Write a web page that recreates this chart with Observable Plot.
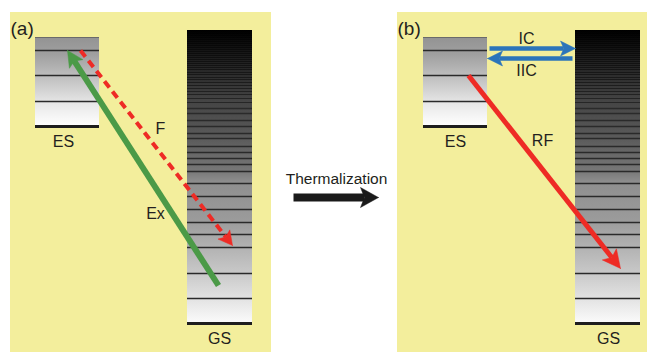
<!DOCTYPE html>
<html><head><meta charset="utf-8">
<script src="https://cdn.jsdelivr.net/npm/d3@7"></script>
<script src="https://cdn.jsdelivr.net/npm/@observablehq/plot@0.6"></script>
<style>body{margin:0;background:#fff;}</style>
</head><body><div id="chart"></div>
<script>
// ---- data ----
const panels = ["(a)", "(b)"];
const panelOffset = [0, 388];
const states = ["ES", "GS"];
const stateX = {ES: [35, 99], GS: [187, 252]};
const stateE = {ES: [197, 286], GS: [0, 293]};
const esLevels = [197, 222, 248, 273, 286];
const gsLevels = [0, 25, 50, 76, 89, 101, 114, 127, 140, 152, 159, 165, 171, 177, 185, 190, 197, 203, 210, 215, 221,
  225, 229, 232, 235, 238, 241, 244, 246, 249, 251, 254, 256, 258, 260, 262, 264, 266, 268, 270, 272, 274, 276, 278,
  280, 282, 284, 286, 288, 290];
const transitions = [
  {name: "Ex", panel: 0, x0: 218, e0: 38, x1: 67, e1: 273, color: "#4b9a47", width: 6, dash: null, L: 16, W: 8},
  {name: "F", panel: 0, x0: 80, e0: 273, x1: 232, e1: 78, color: "#ee2b25", width: 4, dash: "8,5", L: 14, W: 7.5},
  {name: "IC", panel: 1, x0: 101, e0: 275, x1: 187, e1: 275, color: "#2b74ba", width: 4.5, dash: null, L: 15, W: 7.5},
  {name: "IIC", panel: 1, x0: 184, e0: 265, x1: 99, e1: 265, color: "#2b74ba", width: 4.5, dash: null, L: 15, W: 7.5},
  {name: "RF", panel: 1, x0: 80, e0: 248, x1: 232, e1: 55, color: "#ee2b25", width: 5, dash: null, L: 18, W: 9},
  {name: "Thermalization", panel: null, x0: 293, e0: 126, x1: 378, e1: 126, color: "#1a1a1a", width: 8, dash: null, L: 18, W: 10}
];
const labels = [
  {text: "(a)", x: 10, e: 295, size: 19, anchor: "start"},
  {text: "(b)", x: 397, e: 295, size: 19, anchor: "start"},
  {text: "ES", x: 63, e: 182, size: 16, anchor: "middle"},
  {text: "GS", x: 219, e: -15, size: 16, anchor: "middle"},
  {text: "ES", x: 455, e: 182, size: 16, anchor: "middle"},
  {text: "GS", x: 608, e: -15, size: 16, anchor: "middle"},
  {text: "F", x: 160, e: 195, size: 16, anchor: "middle"},
  {text: "Ex", x: 155, e: 110, size: 16, anchor: "middle"},
  {text: "IC", x: 526, e: 285, size: 16, anchor: "middle"},
  {text: "IIC", x: 526, e: 253, size: 16, anchor: "middle"},
  {text: "RF", x: 542, e: 183, size: 16, anchor: "middle"},
  {text: "Thermalization", x: 336, e: 144, size: 15.5, anchor: "middle"}
];

// ---- derived tables ----
const panelBg = panels.map((p, i) => ({x1: 10 + panelOffset[i] - (i ? 1 : 0), x2: i ? 660 : 271, e1: -29, e2: 311}));
const boxes = [];
panels.forEach((p, i) => states.forEach(s => boxes.push({
  state: s, x1: stateX[s][0] + panelOffset[i], x2: stateX[s][1] + panelOffset[i], e1: stateE[s][0], e2: stateE[s][1]
})));
const levelRows = [];
panels.forEach((p, i) => {
  esLevels.forEach(e => levelRows.push({x1: stateX.ES[0] + panelOffset[i], x2: stateX.ES[1] + panelOffset[i], e,
    kind: e === esLevels[0] ? "base" : e === esLevels[esLevels.length - 1] ? "top" : "mid"}));
  gsLevels.forEach(e => levelRows.push({x1: stateX.GS[0] + panelOffset[i], x2: stateX.GS[1] + panelOffset[i], e,
    kind: e === 0 ? "base" : e > 218 ? "dense" : "mid"}));
});
const shafts = [], heads = [];
transitions.forEach((t, k) => {
  const off = t.panel == null ? 0 : panelOffset[t.panel];
  const ax = t.x0 + off, ae = t.e0, bx = t.x1 + off, be = t.e1;
  const len = Math.hypot(bx - ax, be - ae), ux = (bx - ax) / len, ue = (be - ae) / len;
  const nx = -ue, ne = ux, notch = 0.78;
  shafts.push({x1: ax, e1: ae, x2: bx - ux * t.L * notch, e2: be - ue * t.L * notch, color: t.color, width: t.width, dash: t.dash});
  const pts = [
    [bx, be],
    [bx - ux * t.L + nx * t.W, be - ue * t.L + ne * t.W],
    [bx - ux * t.L * notch, be - ue * t.L * notch],
    [bx - ux * t.L - nx * t.W, be - ue * t.L - ne * t.W],
    [bx, be]
  ];
  pts.forEach(([x, e]) => heads.push({id: k, x, e, color: t.color}));
});

const lineStyle = {
  base: {stroke: "#1e1e1e", width: 3, op: 1},
  top: {stroke: "#6a6a6a", width: 1.2, op: 1},
  mid: {stroke: "#2a2a2a", width: 1.6, op: 1},
  dense: {stroke: "#000", width: 1.2, op: 0.45}
};

const marks = [
  Plot.rect(panelBg, {x1: "x1", x2: "x2", y1: "e1", y2: "e2", fill: "#f3ee9c"}),
  Plot.rect(boxes, {x1: "x1", x2: "x2", y1: "e1", y2: "e2", fill: d => d.state === "ES" ? "url(#esGrad)" : "url(#gsGrad)"})
];
for (const kind of Object.keys(lineStyle)) {
  const st = lineStyle[kind];
  marks.push(Plot.ruleY(levelRows.filter(d => d.kind === kind), {
    y: "e", x1: "x1", x2: "x2", stroke: st.stroke, strokeWidth: st.width, strokeOpacity: st.op
  }));
}
shafts.forEach(s => marks.push(Plot.link([s], {
  x1: "x1", y1: "e1", x2: "x2", y2: "e2", stroke: s.color, strokeWidth: s.width,
  strokeDasharray: s.dash || undefined, strokeLinecap: "butt"
})));
marks.push(Plot.line(heads, {x: "x", y: "e", z: "id", fill: "color", stroke: "color", strokeWidth: 0.5, curve: "linear"}));
labels.forEach(l => marks.push(Plot.text([l], {
  x: "x", y: "e", text: "text", fontSize: l.size, textAnchor: l.anchor, fill: "#231f20"
})));

const svg = Plot.plot({
  width: 647, height: 352,
  marginTop: 0, marginBottom: 0, marginLeft: 0, marginRight: 0,
  x: {domain: [0, 647], axis: null},
  y: {domain: [-29, 323], axis: null},
  color: {type: "identity"},
  style: {fontFamily: "'Liberation Sans', Arial, sans-serif", background: "#fff"},
  marks
});
const defs = d3.select(svg).insert("defs", ":first-child");
const es = defs.append("linearGradient").attr("id", "esGrad").attr("x1", 0).attr("y1", 0).attr("x2", 0).attr("y2", 1);
[[0, "#939393"], [0.2, "#a0a0a0"], [0.5, "#c6c6c6"], [0.75, "#e8e8e8"], [1, "#ffffff"]]
  .forEach(([o, c]) => es.append("stop").attr("offset", o).attr("stop-color", c));
const gs = defs.append("linearGradient").attr("id", "gsGrad").attr("x1", 0).attr("y1", 0).attr("x2", 0).attr("y2", 1);
[[0, "#000000"], [0.1, "#1e1e1e"], [0.24, "#444444"], [0.375, "#5c5c5c"], [0.48, "#777777"], [0.52, "#8f8f8f"],
 [0.65, "#9b9b9b"], [0.82, "#c6c6c6"], [1, "#fbfbfb"]]
  .forEach(([o, c]) => gs.append("stop").attr("offset", o).attr("stop-color", c));
document.getElementById("chart").appendChild(svg);
</script>
</body></html>
